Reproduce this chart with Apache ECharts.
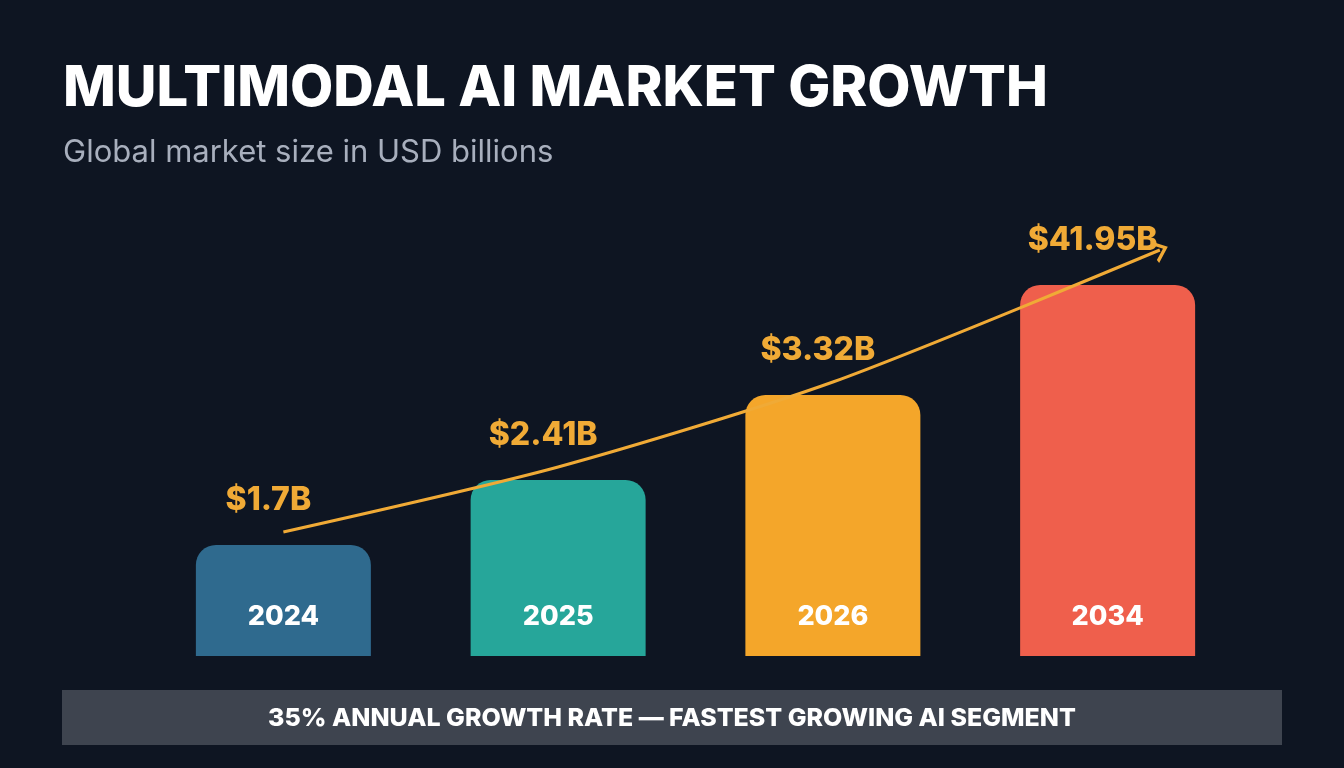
<!DOCTYPE html>
<html>
<head>
<meta charset="utf-8">
<script src="https://cdn.jsdelivr.net/npm/echarts@6/dist/echarts.min.js"></script>
<style>
  html, body { margin: 0; padding: 0; background: #0e1522; }
  #chart { width: 1344px; height: 768px; }
</style>
</head>
<body>
<div id="chart"></div>
<script>
  // years and market size
  var years = ['2024', '2025', '2026', '2034'];
  var marketSize = [1.7, 2.41, 3.32, 41.95];
  // bar heights as drawn in the picture (stylised, not to scale)
  var barLevels = [111, 176, 261, 371];
  // trend arrow points: [category position, level]
  var trendPoints = [[0.5, 124], [1.5, 189], [2.5, 274], [3.69, 406]];
  var barColors = ['#2f6a8e', '#26a69a', '#f4a62a', '#ef5f4c'];

  var chartDom = document.getElementById('chart');
  var myChart = echarts.init(chartDom);

  var font = 'Inter, Roboto, sans-serif';
  var gold = '#f0aa36';

  var option = {
    backgroundColor: '#0e1522',
    animation: false,
    title: [
      {
        text: 'MULTIMODAL AI MARKET GROWTH',
        left: 58,
        top: 56,
        textStyle: { color: '#ffffff', fontSize: 56, fontWeight: 800, fontFamily: font }
      },
      {
        text: 'Global market size in USD billions',
        left: 58,
        top: 132,
        textStyle: { color: '#a8afbd', fontSize: 31, fontWeight: 400, fontFamily: font }
      }
    ],
    grid: { left: 146, right: 99, top: 236, bottom: 112 },
    xAxis: [
      {
        type: 'category',
        data: years,
        show: false
      },
      {
        type: 'value',
        min: 0,
        max: 4,
        show: false
      }
    ],
    yAxis: {
      type: 'value',
      min: 0,
      max: 420,
      show: false
    },
    graphic: [
      {
        type: 'rect',
        shape: { x: 62, y: 690, width: 1220, height: 55 },
        style: { fill: '#3e444f' },
        z: 0
      },
      {
        type: 'text',
        x: 672,
        y: 718,
        style: {
          text: '35% ANNUAL GROWTH RATE — FASTEST GROWING AI SEGMENT',
          fill: '#ffffff',
          font: '800 25px ' + font,
          textAlign: 'center',
          textVerticalAlign: 'middle'
        },
        z: 1
      }
    ],
    series: [
      {
        type: 'bar',
        barWidth: 175,
        data: barLevels.map(function (v, i) {
          return { value: v, itemStyle: { color: barColors[i] } };
        }),
        itemStyle: { borderRadius: [20, 20, 0, 0] },
        label: {
          show: true,
          position: 'insideBottom',
          distance: 26,
          formatter: function (p) { return years[p.dataIndex]; },
          color: '#ffffff',
          fontSize: 27,
          fontWeight: 800,
          fontFamily: font
        },
        silent: true
      },
      {
        type: 'bar',
        barWidth: 175,
        barGap: '-100%',
        data: barLevels,
        itemStyle: { color: 'rgba(0,0,0,0)' },
        label: {
          show: true,
          position: 'top',
          distance: 29,
          offset: [-15, 0],
          formatter: function (p) { return '$' + marketSize[p.dataIndex] + 'B'; },
          color: gold,
          fontSize: 32,
          fontWeight: 800,
          fontFamily: font
        },
        silent: true
      },
      {
        type: 'line',
        xAxisIndex: 1,
        smooth: 0.25,
        z: 5,
        data: trendPoints.map(function (p, i) {
          if (i === trendPoints.length - 1) {
            return {
              value: p,
              symbol: 'path://M0,0L10,8L0,16',
              symbolSize: [12, 20],
              symbolRotate: 22,
              itemStyle: { color: 'none', borderColor: gold, borderWidth: 3 }
            };
          }
          return { value: p, symbol: 'none' };
        }),
        lineStyle: { color: gold, width: 3 },
        silent: true
      }
    ]
  };

  myChart.setOption(option);
</script>
</body>
</html>
